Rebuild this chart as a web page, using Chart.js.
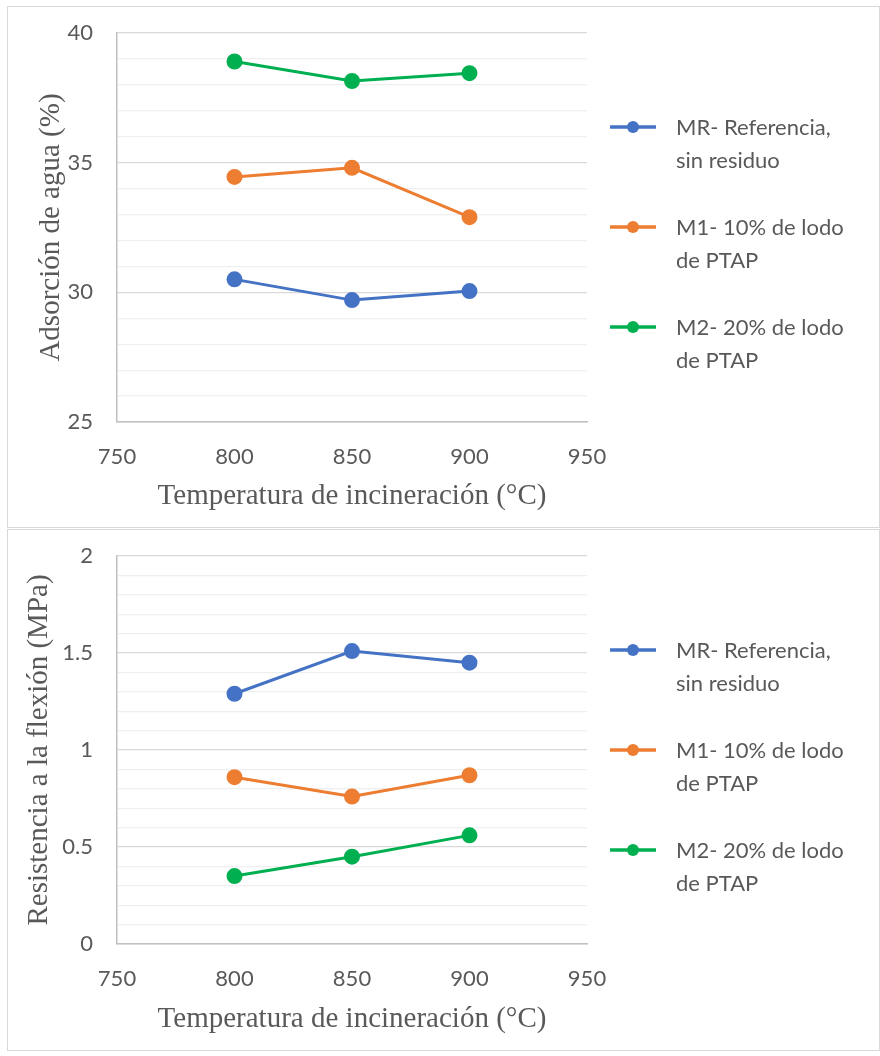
<!DOCTYPE html>
<html>
<head>
<meta charset="utf-8">
<script src="https://cdn.jsdelivr.net/npm/chart.js@4/dist/chart.umd.min.js"></script>
<style>
  body { margin: 0; background: #fff; }
  .box { position: absolute; left: 7px; width: 871px; height: 520px; border: 1px solid #d9d9d9; }
  #box1 { top: 6px; }
  #box2 { top: 529px; }
  canvas { display: block; }
</style>
</head>
<body>
<div class="box" id="box1"><canvas id="chart1" width="871" height="520"></canvas></div>
<div class="box" id="box2"><canvas id="chart2" width="871" height="520"></canvas></div>
<script>
const temperaturas = [800, 850, 900];
const seriesNames = [
  ["MR- Referencia,", "sin residuo"],
  ["M1- 10% de lodo", "de PTAP"],
  ["M2- 20% de lodo", "de PTAP"]
];
const seriesColors = ["#4472C4", "#ED7D31", "#00B050"];

const adsorcionMR = [30.5, 29.7, 30.05];
const adsorcionM1 = [34.45, 34.8, 32.9];
const adsorcionM2 = [38.9, 38.15, 38.45];

const flexionMR = [1.29, 1.51, 1.45];
const flexionM1 = [0.86, 0.76, 0.87];
const flexionM2 = [0.35, 0.45, 0.56];

const xTitle = "Temperatura de incineración (°C)";

const sansFont = "Lato, 'Open Sans', sans-serif";
const serifFont = "'Liberation Serif', 'DejaVu Serif', serif";
const textGray = "#595959";

// legend drawn by hand: line + marker, two-line labels, to the right of the plot
const legendPlugin = {
  id: "sideLegend",
  afterDraw(chart) {
    const ctx = chart.ctx;
    const area = chart.chartArea;
    ctx.save();
    chart.data.datasets.forEach(function (ds, i) {
      const y = 120 + i * 100;
      const x0 = area.right + 23;
      const x1 = area.right + 69;
      ctx.strokeStyle = ds.borderColor;
      ctx.lineWidth = 3.5;
      ctx.beginPath();
      ctx.moveTo(x0, y);
      ctx.lineTo(x1, y);
      ctx.stroke();
      ctx.fillStyle = ds.borderColor;
      ctx.beginPath();
      ctx.arc((x0 + x1) / 2, y, 6, 0, Math.PI * 2);
      ctx.fill();
      ctx.fillStyle = textGray;
      ctx.font = "22px " + sansFont;
      ctx.textBaseline = "middle";
      ctx.textAlign = "left";
      ds.label.forEach(function (line, k) {
        ctx.fillText(line, area.right + 89, y + 1 + k * 33);
      });
    });
    ctx.restore();
  }
};

function makeDatasets(values) {
  return values.map(function (vals, i) {
    return {
      label: seriesNames[i],
      data: temperaturas.map(function (t, j) { return { x: t, y: vals[j] }; }),
      borderColor: seriesColors[i],
      backgroundColor: seriesColors[i],
      borderWidth: 3,
      pointRadius: 6.5,
      pointHoverRadius: 6.5,
      tension: 0
    };
  });
}

function makeChart(id, values, yTitle, yMin, yMax, minorStep, majorStep, titlePad, xHeight) {
  const isMajor = function (v) {
    return Math.abs(v / majorStep - Math.round(v / majorStep)) < 1e-6;
  };
  return new Chart(document.getElementById(id), {
    type: "line",
    data: { datasets: makeDatasets(values) },
    options: {
      responsive: false,
      animation: false,
      layout: { padding: { top: 26, right: 292, left: 0, bottom: 0 } },
      plugins: { legend: { display: false }, tooltip: { enabled: false } },
      scales: {
        x: {
          type: "linear",
          min: 750,
          max: 950,
          ticks: {
            stepSize: 50,
            padding: 14,
            color: textGray,
            font: { family: sansFont, size: 22 }
          },
          grid: { display: false },
          border: { display: true, color: "#bfbfbf", width: 1.5 },
          title: {
            display: true,
            text: xTitle,
            color: textGray,
            font: { family: serifFont, size: 29 },
            padding: { top: 0, bottom: 13 }
          },
          afterFit: function (scale) { scale.height = xHeight; }
        },
        y: {
          min: yMin,
          max: yMax,
          ticks: {
            stepSize: minorStep,
            autoSkip: false,
            padding: 0,
            color: textGray,
            font: { family: sansFont, size: 22 },
            callback: function (v) {
              return isMajor(v) ? String(Math.round(v * 10) / 10) : "";
            }
          },
          grid: {
            drawTicks: true,
            tickLength: 24,
            tickColor: "rgba(0,0,0,0)",
            lineWidth: 1.2,
            color: function (c) {
              return isMajor(c.tick.value) ? "#d9d9d9" : "#efefef";
            }
          },
          border: { display: true, color: "#bfbfbf", width: 1.5 },
          title: {
            display: true,
            text: yTitle,
            color: textGray,
            font: { family: serifFont, size: 29 },
            padding: { top: titlePad, bottom: 0 }
          },
          afterFit: function (scale) { scale.width = 109; }
        }
      }
    },
    plugins: [legendPlugin]
  });
}

makeChart("chart1", [adsorcionMR, adsorcionM1, adsorcionM2],
  "Adsorción de agua (%)", 25, 40, 1, 5, 26, 105);
makeChart("chart2", [flexionMR, flexionM1, flexionM2],
  "Resistencia a la flexión (MPa)", 0, 2, 0.1, 0.5, 14, 106);
</script>
</body>
</html>
